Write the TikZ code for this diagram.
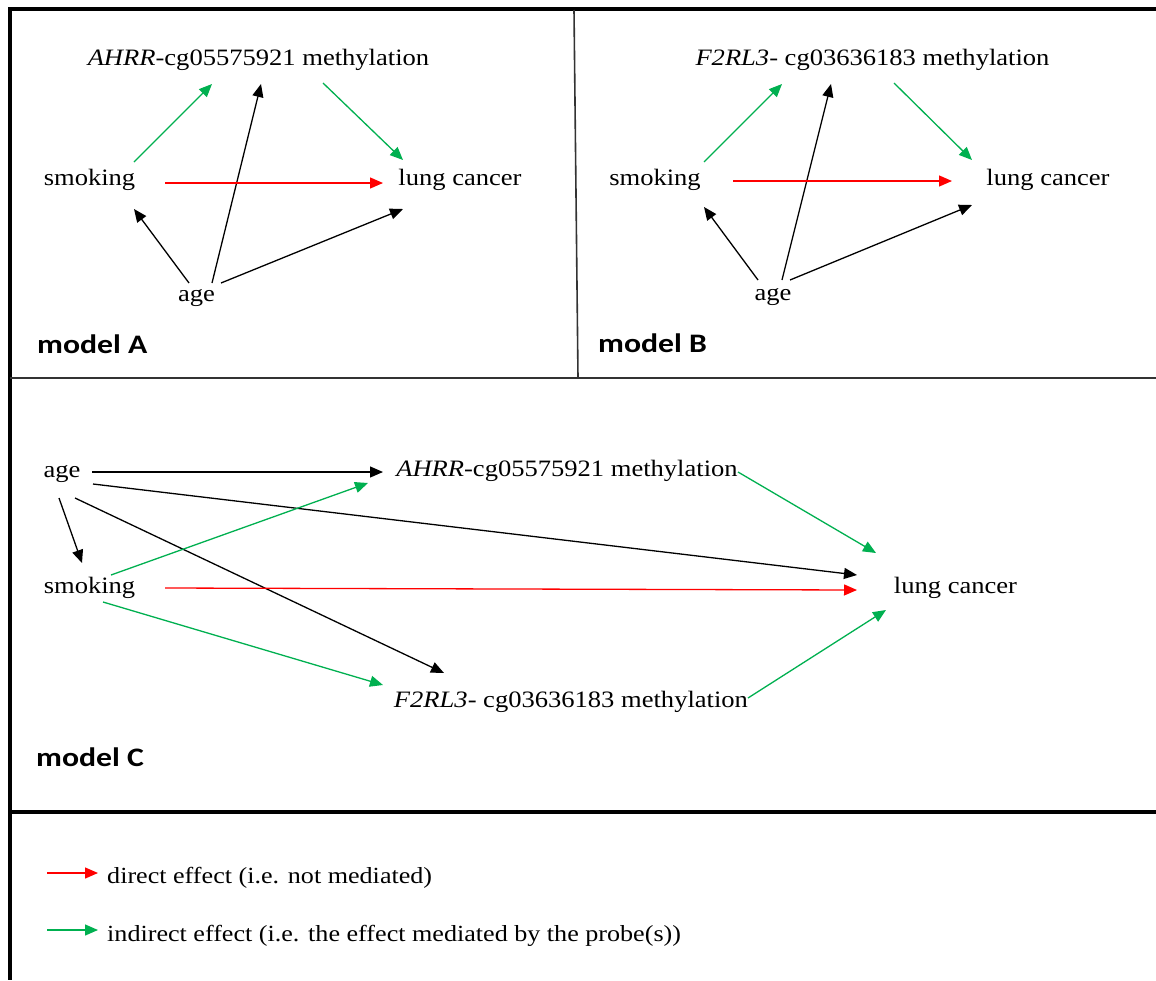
\documentclass[tikz,border=0pt]{standalone}
\usepackage{fontspec}
\setmainfont{Liberation Serif}[FakeStretch=1.13]
\newfontfamily\labelfont{Carlito}[FakeStretch=1.19]
\usetikzlibrary{arrows.meta,calc}
\definecolor{effgreen}{RGB}{0,176,80}
\definecolor{effred}{RGB}{255,0,0}
\tikzset{
  txt/.style={inner sep=0pt, text height=16pt, text depth=5pt,
    font=\fontsize{23.5}{28}\selectfont},
  legtxt/.style={inner sep=0pt, anchor=base west, font=\fontsize{23.1}{28}\selectfont},
  modlab/.style={inner sep=0pt, anchor=base west,
    font=\labelfont\bfseries\fontsize{26.7}{32}\selectfont},
  ar/.style={line width=1.3pt, -{Triangle[length=13pt,width=11pt]}},
  blk/.style={ar, black},
  grn/.style={ar, effgreen},
  rd/.style={ar, effred},
  heavy/.style={line width=3.2pt, black},
  thin/.style={line width=1.6pt, black!80},
}
\begin{document}
\begin{tikzpicture}[x=1pt,y=-1pt]
\useasboundingbox (0,0) rectangle (1156,980);
\fill[white] (0,0) rectangle (1156,980);

% panel frame
\draw[heavy] (8.4,9) -- (1156,9);
\draw[heavy] (10,7.4) -- (10,980);
\draw[thin] (574,10) -- (578,378);
\draw[thin] (10,378) -- (1156,378);
\draw[heavy] (10,812) -- (1156,812);

% ---------- model A ----------
\node[txt] (mA) at (258.5,60) {\textit{AHRR}-cg05575921 methylation};
\node[txt] (sA) at (89.5,180) {smoking};
\node[txt] (lA) at (460,180) {lung cancer};
\node[txt] (aA) at (196.5,296) {age};
\node[modlab] (labA) at (37,353) {model A};

\draw[grn] ($(sA)+(44.5,-18)$) -- ($(mA)+(-46.5,24)$);
\draw[blk] ($(aA)+(15.5,-13)$) -- ($(mA)+(2.5,24)$);
\draw[grn] ($(mA)+(64.5,23)$) -- ($(lA)+(-57,-20)$);
\draw[rd]  ($(sA)+(75.5,3)$) -- ($(lA)+(-77,3)$);
\draw[blk] ($(aA)+(-7.5,-13)$) -- ($(sA)+(44.5,29)$);
\draw[blk] ($(aA)+(24.5,-13)$) -- ($(lA)+(-57,29)$);

% ---------- model B ----------
\node[txt] (mB) at (872.5,60) {\textit{F2RL3}- cg03636183 methylation};
\node[txt] (sB) at (655,180) {smoking};
\node[txt] (lB) at (1048,180) {lung cancer};
\node[txt] (aB) at (773,295) {age};
\node[modlab] (labB) at (598,352) {model B};

\draw[grn] ($(sB)+(49,-18)$) -- ($(mB)+(-90.5,24)$);
\draw[blk] ($(aB)+(9,-15)$) -- ($(mB)+(-41.5,24)$);
\draw[grn] ($(mB)+(21.5,23)$) -- ($(lB)+(-76,-20)$);
\draw[rd]  ($(sB)+(78,1)$) -- ($(lB)+(-96,1)$);
\draw[blk] ($(aB)+(-15,-15)$) -- ($(sB)+(49,27)$);
\draw[blk] ($(aB)+(17,-15)$) -- ($(lB)+(-76,25)$);

% ---------- model C ----------
\node[txt] (aC) at (62,472) {age};
\node[txt] (sC) at (89.5,588) {smoking};
\node[txt] (mC) at (567,471) {\textit{AHRR}-cg05575921 methylation};
\node[txt] (fC) at (571,702) {\textit{F2RL3}- cg03636183 methylation};
\node[txt] (lC) at (955.5,588) {lung cancer};
\node[modlab] (labC) at (36,766) {model C};

\draw[blk] ($(aC)+(30,0)$) -- ($(mC)+(-184,1)$);
\draw[blk] ($(aC)+(31,12)$) -- ($(lC)+(-98.5,-13)$);
\draw[blk] ($(aC)+(-3,26)$) -- ($(sC)+(-7.5,-25)$);
\draw[blk] ($(aC)+(13,26)$) -- ($(fC)+(-127,-29)$);
\draw[grn] ($(sC)+(21.5,-13)$) -- ($(mC)+(-199,12)$);
\draw[grn] ($(sC)+(13.5,14)$) -- ($(fC)+(-188,-17)$);
\draw[rd]  ($(sC)+(75.5,0)$) -- ($(lC)+(-98.5,2)$);
\draw[grn] ($(mC)+(171,1)$) -- ($(lC)+(-79.5,-35)$);
\draw[grn] ($(fC)+(177,-4)$) -- ($(lC)+(-69.5,22)$);

% ---------- legend ----------
\node[legtxt] (legD) at (107,883) {direct effect (i.e. not mediated)};
\node[legtxt] (legI) at (107,941) {indirect effect (i.e. the effect mediated by the probe(s))};
\coordinate (legDs) at (47,873);
\coordinate (legIs) at (47,930);
\draw[rd]  (legDs) -- ($(legD.base west)+(-9,-10)$);
\draw[grn] (legIs) -- ($(legI.base west)+(-9,-11)$);
\end{tikzpicture}
\end{document}
